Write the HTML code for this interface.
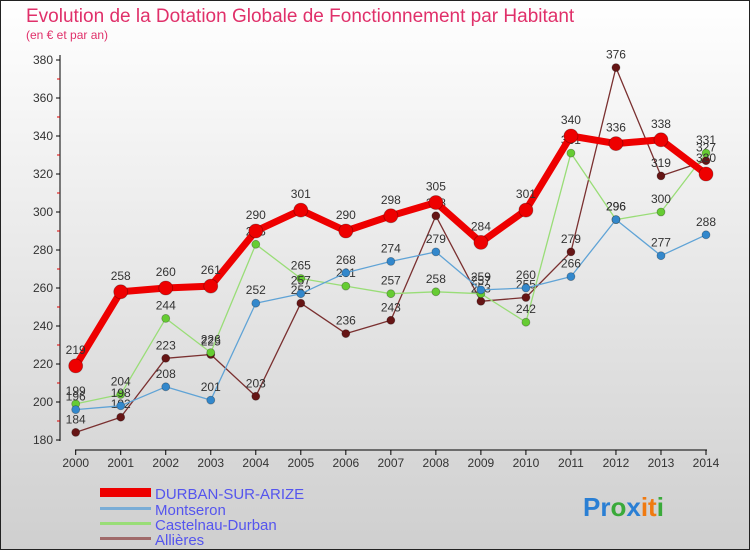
<!DOCTYPE html>
<html><head><meta charset="utf-8"><style>
body{margin:0;width:750px;height:550px;overflow:hidden;font-family:"Liberation Sans",sans-serif}
</style></head><body>
<svg id="c" width="750" height="550" xmlns="http://www.w3.org/2000/svg">
<defs><linearGradient id="bg" x1="0" y1="0" x2="0" y2="1"><stop offset="0" stop-color="#ffffff"/><stop offset="1" stop-color="#cfcfcf"/></linearGradient></defs>
<rect x="0.5" y="0.5" width="749" height="549" fill="url(#bg)" stroke="#222"/>
<text x="26" y="22" font-size="19" fill="#e0306a">Evolution de la Dotation Globale de Fonctionnement par Habitant</text>
<text x="26" y="39" font-size="12" fill="#e0306a">(en € et par an)</text>
<g id="axes"></g><g id="series"></g>
<g>
<rect x="100" y="488" width="51" height="9" fill="#e00"/>
<text x="155" y="499" font-size="15" fill="#5555ee">DURBAN-SUR-ARIZE</text>
<rect x="100" y="507" width="51" height="3" fill="#7aadd6"/>
<text x="155" y="515" font-size="15" fill="#5555ee">Montseron</text>
<rect x="100" y="522" width="51" height="3" fill="#99dd77"/>
<text x="155" y="530" font-size="15" fill="#5555ee">Castelnau-Durban</text>
<rect x="100" y="537" width="51" height="3" fill="#a06a6a"/>
<text x="155" y="545" font-size="15" fill="#5555ee">Allières</text>
</g>
<text x="583" y="516" font-size="26" font-weight="bold"><tspan fill="#2a7fd4">Pr</tspan><tspan fill="#3aaa3a">o</tspan><tspan fill="#2a7fd4">x</tspan><tspan fill="#f07a10">it</tspan><tspan fill="#3aaa3a">i</tspan></text>
</svg>
<script>
const years=[2000,2001,2002,2003,2004,2005,2006,2007,2008,2009,2010,2011,2012,2013,2014];
const yTicks=[180,200,220,240,260,280,300,320,340,360,380];
const durban=[219,258,260,261,290,301,290,298,305,284,301,340,336,338,320];
const montseron=[196,198,208,201,252,257,268,274,279,259,260,266,296,277,288];
const castelnau=[199,204,244,226,283,265,261,257,258,257,242,331,296,300,331];
const allieres=[184,192,223,225,203,252,236,243,298,253,255,279,376,319,327];
const NS="http://www.w3.org/2000/svg";
const X=i=>75.7+i*(706-75.7)/14;
const Y=v=>440-(v-180)*1.9;
function mk(t,a,p){const e=document.createElementNS(NS,t);for(const k in a)e.setAttribute(k,a[k]);p.appendChild(e);return e;}
const ax=document.getElementById('axes');
const yl=mk('line',{x1:60,y1:55,x2:60,y2:441,stroke:'#000'},ax);


const xl=mk('line',{x1:75,y1:450,x2:707,y2:450,stroke:'#000'},ax);


yTicks.forEach((v,i)=>{
 mk('line',{x1:56,y1:Y(v),x2:60,y2:Y(v),stroke:'#000'},ax);
 if(i<yTicks.length-1) mk('line',{x1:57,y1:Y(v+10),x2:60,y2:Y(v+10),stroke:'#d00'},ax);
 const t=mk('text',{x:53,y:Y(v)+4,'font-size':12,fill:'#333','text-anchor':'end'},ax);
 t.textContent=v;
 
 
});
years.forEach((y,i)=>{
 mk('line',{x1:X(i),y1:450,x2:X(i),y2:455,stroke:'#000'},ax);
 const t=mk('text',{x:X(i),y:467,'font-size':12,fill:'#333','text-anchor':'middle'},ax);
 t.textContent=y;
 
 
});
const sg=document.getElementById('series');
function draw(data,name,color,w,r,dot){
 const g=mk('g',{},sg);
 
 
 mk('polyline',{points:data.map((v,i)=>X(i)+','+Y(v)).join(' '),fill:'none',stroke:color,'stroke-width':w,'stroke-linejoin':'round'},g);
 data.forEach((v,i)=>{
  const c=mk('circle',{cx:X(i),cy:Y(v),r:r,fill:dot,stroke:'rgba(0,0,0,0.3)','stroke-width':0.8},g);
  
  
  const t=mk('text',{x:X(i),y:Y(v)-r-5,'font-size':12,fill:'#333','text-anchor':'middle'},g);
  t.textContent=v;
  
  
 });
}
draw(allieres,'allieres','#7a3030',1.3,4,'#661515');
draw(castelnau,'castelnau','#99dd77',1.3,4,'#66cc33');
draw(montseron,'montseron','#5fa3d6',1.3,4,'#3388cc');
draw(durban,'durban','#ee0000',7,7,'#ee0000');
</script>
</body></html>
